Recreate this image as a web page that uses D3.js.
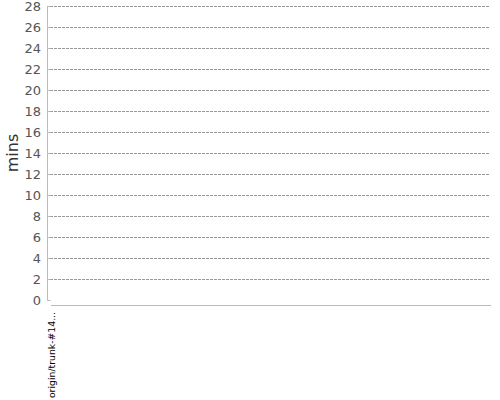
<!DOCTYPE html>
<html>
<head>
<meta charset="utf-8">
<script src="https://cdn.jsdelivr.net/npm/d3@7"></script>
<style>
  body { margin: 0; background: #fff; }
  svg text { font-family: "DejaVu Sans", sans-serif; }
</style>
</head>
<body>
<div id="chart"></div>
<script>
const categories = ["origin/trunk-#14..."];
const durations = [0];
const yTicks = [0, 2, 4, 6, 8, 10, 12, 14, 16, 18, 20, 22, 24, 26, 28];
const yLabel = "mins";

const width = 500, height = 400;
const margin = {left: 47, right: 10, top: 6, bottom: 100};

const svg = d3.select("#chart").append("svg")
    .attr("width", width)
    .attr("height", height);

const y = d3.scaleLinear()
    .domain([0, 28])
    .range([height - margin.bottom, margin.top]);

const x = d3.scaleBand()
    .domain(categories)
    .range([margin.left + 4, width - margin.right])
    .paddingInner(0.1);

// gridlines
svg.append("g")
    .selectAll("line")
    .data(yTicks.filter(d => d > 0))
    .enter()
    .append("line")
    .attr("x1", margin.left + 3)
    .attr("x2", width - margin.right)
    .attr("y1", d => Math.round(y(d)) + 0.5)
    .attr("y2", d => Math.round(y(d)) + 0.5)
    .attr("stroke", "#999")
    .attr("stroke-dasharray", "3,1");

// y axis
const yAxis = svg.append("g")
    .attr("transform", `translate(${margin.left + 0.5},0)`)
    .call(d3.axisRight(y).tickValues(yTicks).tickSize(3).tickFormat(""));
yAxis.select(".domain").attr("stroke", "#bbb")
    .attr("d", `M0,${margin.top}V${y(0) + 0.5}`);
yAxis.selectAll(".tick line").attr("stroke", "#bbb");

svg.append("g")
    .selectAll("text")
    .data(yTicks)
    .enter()
    .append("text")
    .attr("x", margin.left - 6)
    .attr("y", d => y(d))
    .attr("dy", "0.35em")
    .attr("text-anchor", "end")
    .attr("font-size", 13)
    .attr("fill", "#555")
    .text(d => d);

svg.append("text")
    .attr("transform", `translate(18,${(y(0) + y(28)) / 2}) rotate(-90)`)
    .attr("text-anchor", "middle")
    .attr("font-size", 16)
    .attr("fill", "#333")
    .text(yLabel);

// bars
svg.append("g")
    .selectAll("rect")
    .data(durations)
    .enter()
    .append("rect")
    .attr("x", (d, i) => x(categories[i]))
    .attr("width", x.bandwidth())
    .attr("y", d => y(d))
    .attr("height", d => y(0) - y(d))
    .attr("fill", "#4572a7");

// x axis
const xAxisY = y(0) + 5;
svg.append("line")
    .attr("x1", margin.left + 4)
    .attr("x2", width - margin.right + 1)
    .attr("y1", xAxisY + 0.5)
    .attr("y2", xAxisY + 0.5)
    .attr("stroke", "#bbb");

svg.append("g")
    .selectAll("text")
    .data(categories)
    .enter()
    .append("text")
    .attr("transform", (d, i) => `translate(${margin.left + 5},${xAxisY + 7}) rotate(-90)`)
    .attr("text-anchor", "end")
    .attr("dy", "0.35em")
    .attr("font-size", 9.3)
    .attr("fill", "#000")
    .text(d => d);
</script>
</body>
</html>
